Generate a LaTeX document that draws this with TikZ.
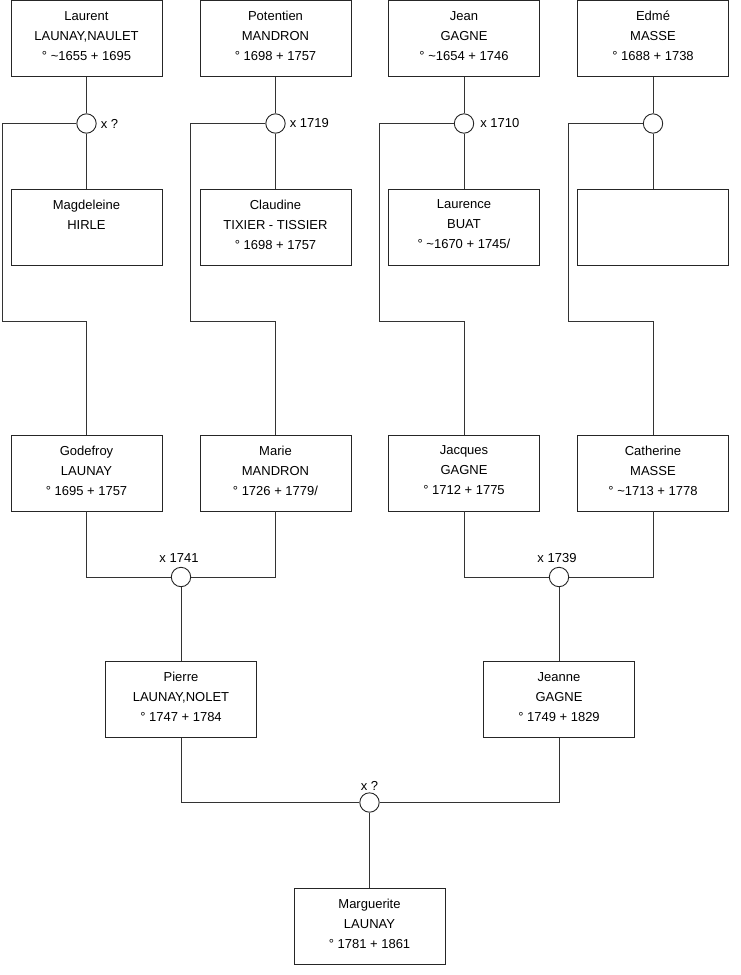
\documentclass[tikz,border=0pt]{standalone}
\usepackage{fontspec}
\setmainfont{Liberation Sans}
\begin{document}
\begin{tikzpicture}[x=1pt,y=-1pt,
  line/.style={draw=black!80, line width=0.9pt},
  person/.style={draw=black!85, line width=0.9pt, fill=white, rectangle, minimum width=151pt, minimum height=76pt, inner sep=0pt},
  pname/.style={anchor=north, yshift=-11pt, align=center, inner sep=0pt, font=\fontsize{13}{20}\selectfont},
  union/.style={draw=black!85, line width=0.9pt, fill=white, circle, minimum size=19.4pt, inner sep=0pt},
  ulabel/.style={font=\fontsize{13}{15}\selectfont, inner sep=0pt}
]
\useasboundingbox (0,0) rectangle (740,975);
% generation 1
\node[person, label={[pname]north:Laurent\\LAUNAY,NAULET\\° \textasciitilde 1655 + 1695}] (laurent) at (86.5,38.5) {};
\node[person, label={[pname]north:Potentien\\MANDRON\\° 1698 + 1757}] (potentien) at (275.5,38.5) {};
\node[person, label={[pname]north:Jean\\GAGNE\\° \textasciitilde 1654 + 1746}] (jean) at (464,38.5) {};
\node[person, label={[pname]north:Edmé\\MASSE\\° 1688 + 1738}] (edme) at (653,38.5) {};
\node[person, label={[pname]north:Magdeleine\\HIRLE}] (magdeleine) at (86.5,227) {};
\node[person, label={[pname]north:Claudine\\TIXIER - TISSIER\\° 1698 + 1757}] (claudine) at (275.5,227) {};
\node[person, label={[pname]north:Laurence\\BUAT\\° \textasciitilde 1670 + 1745/}] (laurence) at (464,227) {};
\node[person] (masseW) at (653,227) {};
% unions gen 1
\node[union] (u1) at (86.5,123.5) {};
\node[union] (u2) at (275.5,123.5) {};
\node[union] (u3) at (464,123.5) {};
\node[union] (u4) at (653,123.5) {};
\node[ulabel, anchor=west] (l1) at ([xshift=4pt]u1.east) {x ?};
\node[ulabel, anchor=west] (l2) at ([xshift=4pt]u2.east) {x 1719};
\node[ulabel, anchor=west] (l3) at ([xshift=6pt]u3.east) {x 1710};
% generation 2
\node[person, label={[pname]north:Godefroy\\LAUNAY\\° 1695 + 1757}] (godefroy) at (86.5,473) {};
\node[person, label={[pname]north:Marie\\MANDRON\\° 1726 + 1779/}] (marie) at (275.5,473) {};
\node[person, label={[pname]north:Jacques\\GAGNE\\° 1712 + 1775}] (jacques) at (464,473) {};
\node[person, label={[pname]north:Catherine\\MASSE\\° \textasciitilde 1713 + 1778}] (catherine) at (653,473) {};
\node[union] (u5) at (181,577) {};
\node[union] (u6) at (559,577) {};
\node[ulabel] (l5) at (179,558) {x 1741};
\node[ulabel] (l6) at (557,558) {x 1739};
% generation 3
\node[person, label={[pname]north:Pierre\\LAUNAY,NOLET\\° 1747 + 1784}] (pierre) at (181,699.5) {};
\node[person, label={[pname]north:Jeanne\\GAGNE\\° 1749 + 1829}] (jeanne) at (559,699.5) {};
\node[union] (u7) at (369.5,802.5) {};
\node[ulabel] (l7) at (369.5,785.5) {x ?};
\node[person, label={[pname]north:Marguerite\\LAUNAY\\° 1781 + 1861}] (marguerite) at (369.5,926) {};
% bend coordinates
\coordinate (c1) at (2.5,321.5);
\coordinate (c2) at (190.5,321.5);
\coordinate (c3) at (379,321.5);
\coordinate (c4) at (568.5,321.5);
% connectors gen 1
\draw[line] (laurent) -- (u1);
\draw[line] (u1) -- (magdeleine);
\draw[line] (u1.west) -| (c1) -| (godefroy.north);
\draw[line] (potentien) -- (u2);
\draw[line] (u2) -- (claudine);
\draw[line] (u2.west) -| (c2) -| (marie.north);
\draw[line] (jean) -- (u3);
\draw[line] (u3) -- (laurence);
\draw[line] (u3.west) -| (c3) -| (jacques.north);
\draw[line] (edme) -- (u4);
\draw[line] (u4) -- (masseW);
\draw[line] (u4.west) -| (c4) -| (catherine.north);
% gen 2
\draw[line] (godefroy.south) |- (u5.west);
\draw[line] (marie.south) |- (u5.east);
\draw[line] (u5) -- (pierre);
\draw[line] (jacques.south) |- (u6.west);
\draw[line] (catherine.south) |- (u6.east);
\draw[line] (u6) -- (jeanne);
% gen 3
\draw[line] (pierre.south) |- (u7.west);
\draw[line] (jeanne.south) |- (u7.east);
\draw[line] (u7) -- (marguerite);
\end{tikzpicture}
\end{document}
